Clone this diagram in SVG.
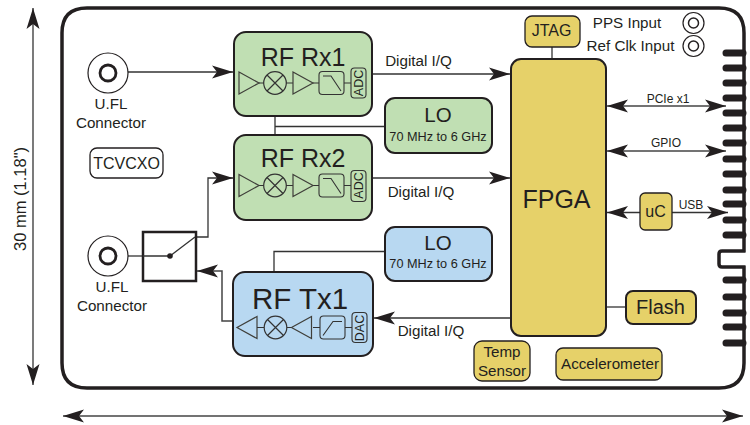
<svg xmlns="http://www.w3.org/2000/svg" width="750" height="425" viewBox="0 0 750 425">
<defs>
<marker id="a" markerUnits="userSpaceOnUse" markerWidth="22" markerHeight="14" refX="21" refY="7" orient="auto-start-reverse"><path d="M0 0.5L21 7L0 13.500L5 7Z" fill="#231f20"/></marker>
<g id="amp"><path d="M0 -11V11L20 0Z" fill="none" stroke="#3f3f3a" stroke-width="1.200"/></g>
<g id="mix"><circle r="11.300" fill="none" stroke="#333" stroke-width="1.200"/><path d="M-8-8L8 8M-8 8L8-8" stroke="#333" stroke-width="1.200"/></g>
</defs>
<style>
text{font-family:"Liberation Sans",Arial,sans-serif;fill:#231f20;text-anchor:middle}
.blk{stroke:#231f20;stroke-width:2}
.g{fill:#c0dfb3}.b{fill:#b8d8f1}.y{fill:#e6d169}
.w{stroke:#333;stroke-width:1.300;fill:none}
.ww{stroke:#444;stroke-width:1.500;fill:none}
.in{fill:none;stroke:#333;stroke-width:1.100}
.pin{stroke:#231f20;stroke-width:7;stroke-linecap:round}
.s12{font-size:12px}.s15{font-size:15.200px}.s16{font-size:16px}
</style>

<g id="board">
<path d="M744 251H722Q719 251 719 254V264Q719 267 722 267H744V363Q744 388 719 388H87Q62 388 62 363V33Q62 8 87 8H719Q744 8 744 33Z" fill="#fff" stroke="#231f20" stroke-width="3.500"/>
<path d="M746 252.700V265.300H745V252.700Z" fill="#fff"/>
<path class="pin" d="M726 53H743M726 68H743M726 83H743M726 98H743M726 113H743M726 128H743M726 143H743M726 159H743M726 174H743M726 190H743M726 204H743M726 220H743M726 235H743M726 280H743M726 297H743M726 313H743M726 327H743M726 343H743"/>
</g>

<g id="connectors">
<path class="w" d="M128 72H233" marker-end="url(#a)"/>
<path class="w" d="M275 116V135M275 126.500H385"/>
<path class="w" d="M371 74H510" marker-end="url(#a)"/>
<path class="w" d="M371 178H510" marker-end="url(#a)"/>
<path class="w" d="M196 237H208V178H233" marker-end="url(#a)"/>
<path class="w" d="M274 272V251.500H385"/>
<path class="w" d="M510 318H374" marker-end="url(#a)"/>
<path class="ww" d="M233 321H222V271H197" marker-end="url(#a)"/>
<path class="w" d="M128 256H143"/>
<path class="w" d="M552 47V59"/>
<path class="w" d="M606 307H626"/>
<path class="ww" d="M607 106H726" marker-start="url(#a)" marker-end="url(#a)"/>
<path class="ww" d="M607 151H726" marker-start="url(#a)" marker-end="url(#a)"/>
<path class="w" d="M607 212.500H640" marker-start="url(#a)"/>
<path class="w" d="M672 212.500H728" marker-end="url(#a)"/>
<path class="w" d="M33 8V385" marker-start="url(#a)" marker-end="url(#a)"/>
<path class="ww" d="M63 416H743" marker-start="url(#a)" marker-end="url(#a)"/>
<text x="418.500" y="66" class="s15">Digital I/Q</text>
<text x="421" y="197" class="s15">Digital I/Q</text>
<text x="431" y="336" class="s15">Digital I/Q</text>
<text x="668" y="103" class="s12">PCIe x1</text>
<text x="666" y="147" class="s12">GPIO</text>
<text x="691" y="209" class="s12">USB</text>
<text transform="translate(26 199) rotate(-90)" font-size="16.500">30 mm (1.18")</text>
</g>

<g id="conn1"><circle cx="108" cy="73" r="20" fill="#fff" stroke="#231f20" stroke-width="1.200"/><circle cx="108" cy="73" r="8" fill="#fff" stroke="#231f20" stroke-width="2.800"/>
<text x="111" y="109" class="s15">U.FL</text><text x="111" y="128" class="s15">Connector</text></g>
<g id="conn2"><circle cx="108" cy="256" r="20" fill="#fff" stroke="#231f20" stroke-width="1.200"/><circle cx="108" cy="256" r="8" fill="#fff" stroke="#231f20" stroke-width="2.800"/>
<text x="112" y="292" class="s15">U.FL</text><text x="112" y="311" class="s15">Connector</text></g>

<g id="tcvcxo"><rect x="90" y="148" width="73" height="30" rx="7" fill="#fff" stroke="#231f20" stroke-width="1.300"/><text x="126.500" y="168.500" class="s16">TCVCXO</text></g>

<g id="switch"><rect x="143" y="232" width="53" height="49" fill="#fff" stroke="#231f20" stroke-width="2.500"/><path d="M143 256H170L195 237" class="w"/><circle cx="170" cy="256" r="2.800" fill="#231f20"/></g>

<g id="rx1"><rect x="234" y="32" width="138" height="84" rx="12" class="g blk"/>
<text x="303" y="66" font-size="25">RF Rx1</text>
<g transform="translate(0 83)"><use href="#amp" x="239"/><path class="in" d="M259 0H264M286 0H293M313 0H319M344 0H351"/><use href="#mix" x="275"/><use href="#amp" x="293"/>
<rect x="319" y="-11.500" width="25" height="23" rx="3.500" class="in"/><path class="in" d="M323-7H331L341 8"/>
<rect x="351" y="-15" width="15" height="30" rx="3.500" class="in"/></g>
<text transform="translate(363 83) rotate(-90)" font-size="12.500">ADC</text></g>

<g id="rx2"><rect x="234" y="135" width="138" height="85" rx="12" class="g blk"/>
<text x="303" y="167" font-size="25">RF Rx2</text>
<g transform="translate(0 185.500)"><use href="#amp" x="239"/><path class="in" d="M259 0H264M286 0H293M313 0H319M344 0H351"/><use href="#mix" x="275"/><use href="#amp" x="293"/>
<rect x="319" y="-11.500" width="25" height="23" rx="3.500" class="in"/><path class="in" d="M323-7H331L341 8"/>
<rect x="351" y="-15" width="15" height="31" rx="3.500" class="in"/></g>
<text transform="translate(363 185.500) rotate(-90)" font-size="12.500">ADC</text></g>

<g id="tx1"><rect x="233" y="272" width="140" height="84" rx="12" class="b blk"/>
<text x="300" y="309" font-size="29.500">RF Tx1</text>
<g transform="translate(0 327.500)"><use href="#amp" transform="translate(257 0) scale(-1 1)"/><path class="in" d="M257 0H264M287 0H292M313 0H320M345 0H352"/><use href="#mix" x="275.500"/><use href="#amp" transform="translate(311.500 0) scale(-1 1)"/>
<rect x="320" y="-11.500" width="25" height="23" rx="3.500" class="in"/><path class="in" d="M323 8L333-6H342"/>
<rect x="352" y="-15" width="15" height="30" rx="3.500" class="in"/></g>
<text transform="translate(364 328) rotate(-90)" font-size="12.500">DAC</text></g>

<g id="lo1"><rect x="385" y="98" width="107" height="55" rx="10" class="g blk"/><text x="438" y="122" font-size="20.500">LO</text><text x="438" y="141" font-size="12.700">70 MHz to 6 GHz</text></g>
<g id="lo2"><rect x="385" y="227" width="107" height="54" rx="10" class="b blk"/><text x="438" y="250" font-size="20.500">LO</text><text x="438" y="268" font-size="12.700">70 MHz to 6 GHz</text></g>

<g id="fpga"><rect x="511" y="59" width="95" height="277" rx="10" class="y blk"/><text x="556.500" y="208" font-size="25">FPGA</text></g>
<g id="jtag"><rect x="525" y="16" width="55" height="31" rx="7" class="y" stroke="#231f20" stroke-width="1.300"/><text x="551.500" y="36" class="s16">JTAG</text></g>
<g id="uc"><rect x="640" y="193" width="32" height="37" rx="5" class="y" stroke="#231f20" stroke-width="1.300"/><text x="655.500" y="217" class="s16">uC</text></g>
<g id="flash"><rect x="626" y="291" width="70" height="33" rx="7" class="y blk"/><text x="660.500" y="314" font-size="20">Flash</text></g>
<g id="temp"><rect x="474" y="341" width="56" height="40" rx="8" class="y" stroke="#231f20" stroke-width="1.300"/><text x="502" y="357" class="s15">Temp</text><text x="502" y="376" class="s15">Sensor</text></g>
<g id="accel"><rect x="556" y="348" width="106" height="32" rx="7" class="y" stroke="#231f20" stroke-width="1.300"/><text x="610" y="369" class="s15">Accelerometer</text></g>

<g id="pps"><circle cx="693.500" cy="23" r="10.500" fill="#fff" stroke="#231f20" stroke-width="1.200"/><circle cx="693.500" cy="23" r="5" fill="#fff" stroke="#231f20" stroke-width="1.500"/><text x="627" y="28" class="s15">PPS Input</text></g>
<g id="refclk"><circle cx="693.500" cy="46" r="10.500" fill="#fff" stroke="#231f20" stroke-width="1.200"/><circle cx="693.500" cy="46" r="5" fill="#fff" stroke="#231f20" stroke-width="1.500"/><text x="630.500" y="51" class="s15">Ref Clk Input</text></g>
</svg>
